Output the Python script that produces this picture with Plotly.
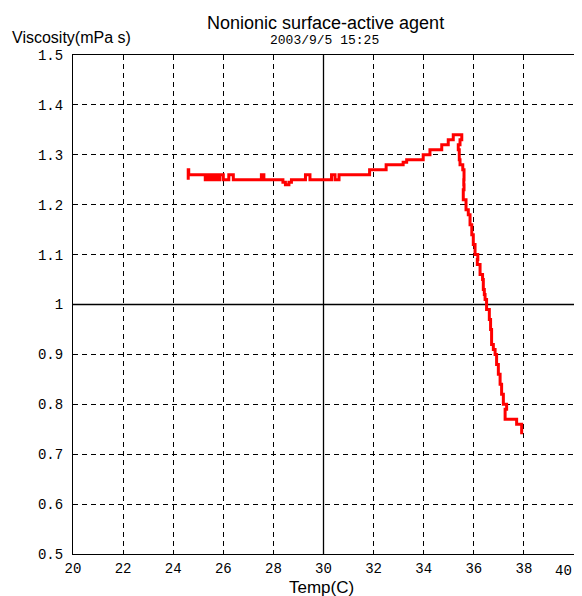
import plotly.graph_objects as go

# Temperature (C) and viscosity (mPa s)
temp = [24.60, 24.60, 24.62, 25.28, 25.36, 25.46, 25.52, 25.62, 25.68, 25.80, 25.86,
        26.00, 26.22, 26.40, 27.52, 27.62, 28.38, 28.48, 28.62, 28.72, 29.28, 29.46,
        30.32, 30.46, 30.62, 31.84, 32.50, 33.18, 33.32, 33.98, 34.25, 34.52, 34.72,
        34.98, 35.18, 35.42, 35.52, 35.45, 35.38, 35.42, 35.45, 35.56, 35.61, 35.60,
        35.61, 35.58, 35.69, 35.78, 35.85, 35.92, 35.98, 36.05, 36.16, 36.14, 36.25,
        36.35, 36.38, 36.42, 36.45, 36.51, 36.62, 36.67, 36.71, 36.78, 36.85, 36.91,
        36.98, 37.05, 37.11, 37.18, 37.31, 37.25, 37.51, 37.71, 37.91, 37.91]
viscosity = [1.25, 1.27, 1.26, 1.25, 1.26, 1.25, 1.26, 1.25, 1.26, 1.25, 1.26,
             1.25, 1.26, 1.25, 1.26, 1.25, 1.245, 1.24, 1.245, 1.25, 1.26, 1.25,
             1.26, 1.25, 1.26, 1.27, 1.28, 1.285, 1.29, 1.30, 1.31, 1.31, 1.32,
             1.33, 1.34, 1.34, 1.33, 1.32, 1.31, 1.29, 1.28, 1.27, 1.25, 1.24,
             1.23, 1.21, 1.19, 1.18, 1.16, 1.14, 1.12, 1.10, 1.09, 1.08, 1.06,
             1.05, 1.03, 1.02, 1.01, 0.99, 0.97, 0.95, 0.92, 0.91, 0.90, 0.88,
             0.86, 0.84, 0.82, 0.80, 0.79, 0.77, 0.77, 0.76, 0.75, 0.74]

x_ticks = [20, 22, 24, 26, 28, 30, 32, 34, 36, 38, 40]
x_tick_labels = ["20", "22", "24", "26", "28", "30", "32", "34", "36", "38", "40"]
y_ticks = [0.5, 0.6, 0.7, 0.8, 0.9, 1.0, 1.1, 1.2, 1.3, 1.4, 1.5]
y_tick_labels = ["0.5", "0.6", "0.7", "0.8", "0.9", "1", "1.1", "1.2", "1.3", "1.4", "1.5"]

title_text = "Nonionic surface-active agent"
date_text = "2003/9/5 15:25"
y_title = "Viscosity(mPa s)"
x_title = "Temp(C)"

fig = go.Figure()
fig.add_trace(go.Scatter(x=temp, y=viscosity, mode="lines",
                         line=dict(color="#ff0000", width=3, shape="hv"),
                         showlegend=False, hoverinfo="x+y"))

mono = dict(family="Liberation Mono", size=14, color="black")
label_font = dict(family="Liberation Sans, Arial, sans-serif", color="black")

# the last x tick label sits at the page edge; it is drawn right-aligned
# as an annotation so it stays inside the window, like the reference
axis_labels = x_tick_labels[:-1] + [""]

# the page body adds an 8px margin, so the figure is sized to fit inside it
fig.update_layout(
    width=574, height=588,
    margin=dict(l=65, r=8, t=47, b=42),
    paper_bgcolor="white", plot_bgcolor="white",
    xaxis=dict(range=[20, 40], tickvals=x_ticks, ticktext=axis_labels,
               showgrid=True, gridcolor="black", gridwidth=1, griddash="5px,4px",
               showline=True, mirror=True, linecolor="black", linewidth=1,
               zeroline=False, ticks="", tickfont=mono, ticklabelstandoff=1,
               ticklabeloverflow="allow", automargin=False),
    yaxis=dict(range=[0.5, 1.5], tickvals=y_ticks, ticktext=y_tick_labels,
               showgrid=True, gridcolor="black", gridwidth=1, griddash="5px,4px",
               showline=True, mirror=True, linecolor="black", linewidth=1,
               zeroline=False, ticks="", tickfont=mono, ticklabelstandoff=6,
               ticklabeloverflow="allow", automargin=False),
    shapes=[
        dict(type="line", xref="x", yref="paper", x0=30, x1=30, y0=0, y1=1,
             line=dict(color="black", width=1.3), layer="below"),
        dict(type="line", xref="paper", yref="y", x0=0, x1=1, y0=1.0, y1=1.0,
             line=dict(color="black", width=1.3), layer="below"),
    ],
    annotations=[
        dict(text=title_text, xref="paper", yref="paper", x=0.503, y=1.065,
             xanchor="center", yanchor="middle", showarrow=False,
             font=dict(size=18, **label_font)),
        dict(text=date_text, xref="paper", yref="paper", x=0.502, y=1.029,
             xanchor="center", yanchor="middle", showarrow=False,
             font=dict(family="Liberation Mono", size=13, color="black")),
        dict(text=y_title, xref="paper", yref="paper", x=-0.126, y=1.036,
             xanchor="left", yanchor="middle", showarrow=False,
             font=dict(size=16, **label_font)),
        dict(text=x_title, xref="paper", yref="paper", x=0.497, y=-0.067,
             xanchor="center", yanchor="middle", showarrow=False,
             font=dict(size=17, **label_font)),
        dict(text=x_tick_labels[-1], xref="paper", yref="paper", x=1.0, y=0,
             xanchor="right", yanchor="top", yshift=-7, showarrow=False,
             font=mono),
    ],
)

fig.write_html("out.html")
